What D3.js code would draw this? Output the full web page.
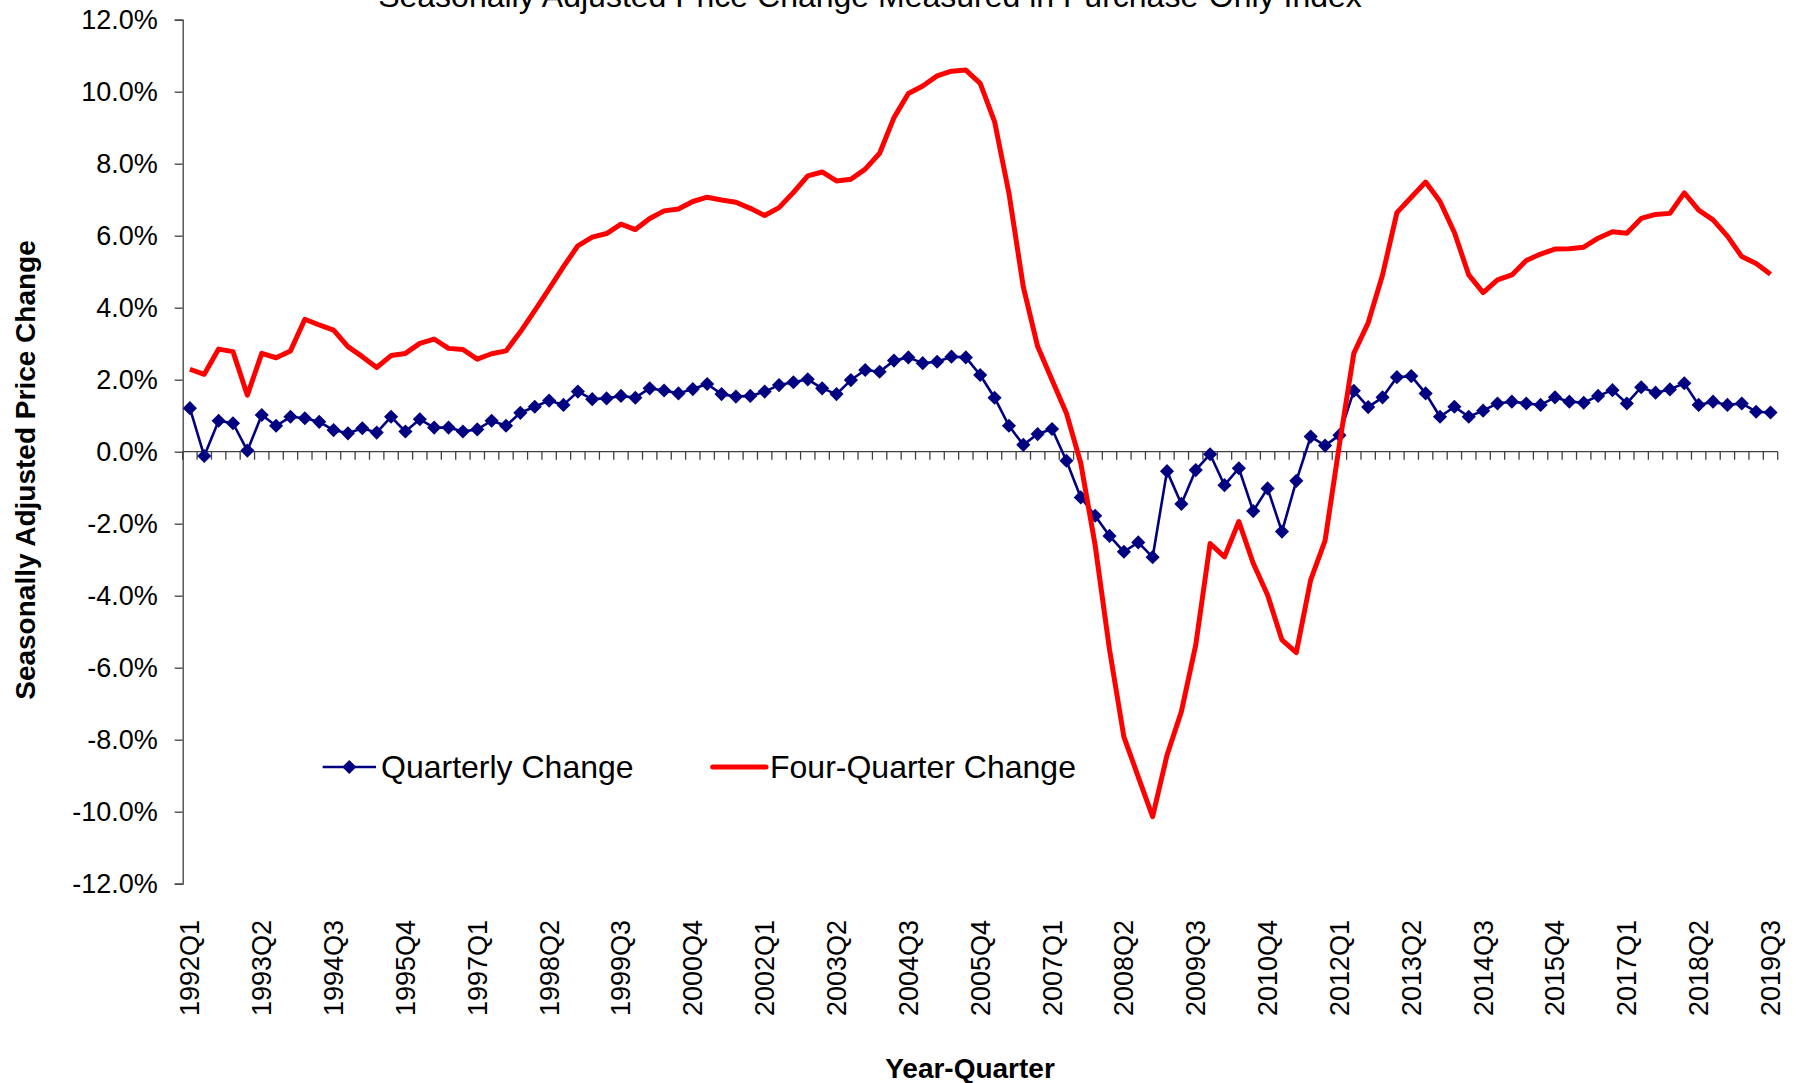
<!DOCTYPE html>
<html>
<head>
<meta charset="utf-8">
<script src="https://cdn.jsdelivr.net/npm/d3@7"></script>
<style>
  html, body { margin: 0; padding: 0; background: #fff; }
  svg { display: block; font-family: "Liberation Sans", Arial, sans-serif; }
</style>
</head>
<body>
<svg id="chart" width="1797" height="1083"></svg>
<script>
// ---------- DATA ----------
const startYear = 1992;
const categories = [];
for (let yr = startYear; yr <= 2019; yr++) {
  for (let q = 1; q <= 4; q++) {
    if (yr === 2019 && q > 3) break;
    categories.push(yr + "Q" + q);
  }
}

const quarterlyChange = [
  1.21, -0.12, 0.86, 0.79, 0.03, 1.02, 0.72, 0.97, 0.93, 0.83,
  0.60, 0.51, 0.65, 0.53, 0.97, 0.56, 0.90, 0.67, 0.67, 0.56,
  0.62, 0.86, 0.72, 1.08, 1.25, 1.42, 1.30, 1.67, 1.46, 1.48,
  1.55, 1.50, 1.76, 1.70, 1.62, 1.74, 1.88, 1.60, 1.53, 1.55,
  1.67, 1.85, 1.93, 2.01, 1.76, 1.60, 1.99, 2.27, 2.22, 2.53,
  2.62, 2.46, 2.50, 2.64, 2.62, 2.13, 1.50, 0.72, 0.19, 0.49,
  0.63, -0.25, -1.27, -1.78, -2.34, -2.78, -2.52, -2.93, -0.54, -1.45,
  -0.51, -0.07, -0.93, -0.46, -1.65, -1.02, -2.22, -0.81, 0.42, 0.17,
  0.46, 1.69, 1.24, 1.51, 2.07, 2.10, 1.62, 0.97, 1.25, 0.97,
  1.14, 1.34, 1.39, 1.34, 1.30, 1.51, 1.39, 1.36, 1.55, 1.71,
  1.34, 1.79, 1.64, 1.73, 1.90, 1.30, 1.39, 1.30, 1.34, 1.11,
  1.09
];

const fourQuarterChange = [
  2.29, 2.15, 2.85, 2.78, 1.57, 2.73, 2.61, 2.80, 3.68, 3.52,
  3.38, 2.92, 2.64, 2.34, 2.67, 2.73, 3.01, 3.13, 2.87, 2.84,
  2.57, 2.72, 2.80, 3.33, 3.92, 4.52, 5.14, 5.72, 5.96, 6.06,
  6.32, 6.17, 6.48, 6.69, 6.74, 6.95, 7.07, 6.99, 6.93, 6.76,
  6.56, 6.78, 7.20, 7.66, 7.77, 7.52, 7.57, 7.85, 8.29, 9.28,
  9.95, 10.16, 10.44, 10.57, 10.60, 10.23, 9.17, 7.18, 4.58, 2.92,
  1.99, 1.07, -0.32, -2.60, -5.50, -7.92, -9.03, -10.14, -8.43, -7.22,
  -5.37, -2.55, -2.92, -1.94, -3.10, -3.98, -5.23, -5.58, -3.56, -2.47,
  0.20, 2.73, 3.58, 4.91, 6.64, 7.07, 7.49, 6.95, 6.09, 4.91,
  4.42, 4.77, 4.91, 5.31, 5.49, 5.63, 5.64, 5.68, 5.93, 6.11,
  6.07, 6.48, 6.59, 6.62, 7.19, 6.71, 6.44, 5.99, 5.42, 5.23,
  4.93
];

const xTickLabels = [
  "1992Q1","1993Q2","1994Q3","1995Q4","1997Q1","1998Q2","1999Q3","2000Q4",
  "2002Q1","2003Q2","2004Q3","2005Q4","2007Q1","2008Q2","2009Q3","2010Q4",
  "2012Q1","2013Q2","2014Q3","2015Q4","2017Q1","2018Q2","2019Q3"
];
const yTickValues = [-12, -10, -8, -6, -4, -2, 0, 2, 4, 6, 8, 10, 12];

const titleText = "Seasonally Adjusted Price Change Measured in Purchase-Only Index";
const yTitle = "Seasonally Adjusted Price Change";
const xTitle = "Year-Quarter";
const seriesNames = ["Quarterly Change", "Four-Quarter Change"];

// ---------- LAYOUT ----------
const svg = d3.select("#chart");
const plotLeft = 182.7, plotRight = 1777.7, plotTop = 19.7, plotBottom = 883.7;
const navy = "#000080", red = "#FF0000", axisColor = "#404040";

const x = d3.scaleBand().domain(categories).range([plotLeft, plotRight]).paddingInner(0).paddingOuter(0);
const xc = c => x(c) + x.bandwidth() / 2;
const y = d3.scaleLinear().domain([-12, 12]).range([plotBottom, plotTop]);

// Title (partly clipped at top like reference)
svg.append("text")
  .attr("x", 870).attr("y", 7)
  .attr("text-anchor", "middle")
  .attr("font-size", 32)
  .attr("fill", "#000")
  .text(titleText);

// Y axis
const yAxis = d3.axisLeft(y)
  .tickValues(yTickValues)
  .tickSize(8)
  .tickPadding(17)
  .tickFormat(d => d.toFixed(1) + "%");
const gy = svg.append("g").attr("transform", `translate(${plotLeft},0)`).call(yAxis);
gy.select(".domain").attr("stroke", axisColor).attr("stroke-width", 1.3);
gy.selectAll(".tick line").attr("stroke", axisColor).attr("stroke-width", 1.3);
gy.selectAll(".tick text").attr("font-size", 27).attr("fill", "#000")
  .attr("font-family", "'Liberation Sans', Arial, sans-serif");

// X axis at zero line
const y0 = y(0);
svg.append("line")
  .attr("x1", plotLeft).attr("x2", plotRight)
  .attr("y1", y0).attr("y2", y0)
  .attr("stroke", axisColor).attr("stroke-width", 1.3);
const boundaries = categories.map(c => x(c)).concat([x.range()[1]]);
svg.append("g").selectAll("line").data(boundaries).join("line")
  .attr("x1", d => d).attr("x2", d => d)
  .attr("y1", y0).attr("y2", y0 + 8)
  .attr("stroke", axisColor).attr("stroke-width", 1.3);

// X tick labels (rotated)
svg.append("g").selectAll("text").data(xTickLabels).join("text")
  .attr("transform", d => `translate(${xc(d)},920) rotate(-90)`)
  .attr("text-anchor", "end")
  .attr("dy", "0.35em")
  .attr("font-size", 27)
  .attr("fill", "#000")
  .text(d => d);

// Axis titles
svg.append("text")
  .attr("transform", `translate(35,470) rotate(-90)`)
  .attr("text-anchor", "middle")
  .attr("font-size", 28)
  .attr("font-weight", "bold")
  .attr("fill", "#000")
  .text(yTitle);
svg.append("text")
  .attr("x", 970).attr("y", 1078)
  .attr("text-anchor", "middle")
  .attr("font-size", 28)
  .attr("font-weight", "bold")
  .attr("fill", "#000")
  .text(xTitle);

// Series
const qData = categories.map((c, i) => ({ c, v: quarterlyChange[i] }));
const fData = categories.map((c, i) => ({ c, v: fourQuarterChange[i] }));
const line = d3.line().x(d => xc(d.c)).y(d => y(d.v));

svg.append("path").datum(qData)
  .attr("d", line)
  .attr("fill", "none").attr("stroke", navy).attr("stroke-width", 2.6)
  .attr("stroke-linejoin", "round");

const diamond = d3.symbol().type(d3.symbolSquare).size(100);
svg.append("g").selectAll("path").data(qData).join("path")
  .attr("d", diamond)
  .attr("transform", d => `translate(${xc(d.c)},${y(d.v)}) rotate(45)`)
  .attr("fill", navy);

svg.append("path").datum(fData)
  .attr("d", line)
  .attr("fill", "none").attr("stroke", red).attr("stroke-width", 5)
  .attr("stroke-linejoin", "round");

// Legend
const legY = 767;
const leg = svg.append("g");
leg.append("line").attr("x1", 322.7).attr("x2", 376).attr("y1", legY).attr("y2", legY)
  .attr("stroke", navy).attr("stroke-width", 2.6);
leg.append("path").attr("d", diamond)
  .attr("transform", `translate(349.3,${legY}) rotate(45)`).attr("fill", navy);
leg.append("text").attr("x", 381).attr("y", legY + 11)
  .attr("font-size", 32).attr("fill", "#000").text(seriesNames[0]);
leg.append("line").attr("x1", 712.7).attr("x2", 766).attr("y1", legY).attr("y2", legY)
  .attr("stroke", red).attr("stroke-width", 5).attr("stroke-linecap", "round");
leg.append("text").attr("x", 770).attr("y", legY + 11)
  .attr("font-size", 32).attr("fill", "#000").text(seriesNames[1]);
</script>
</body>
</html>
